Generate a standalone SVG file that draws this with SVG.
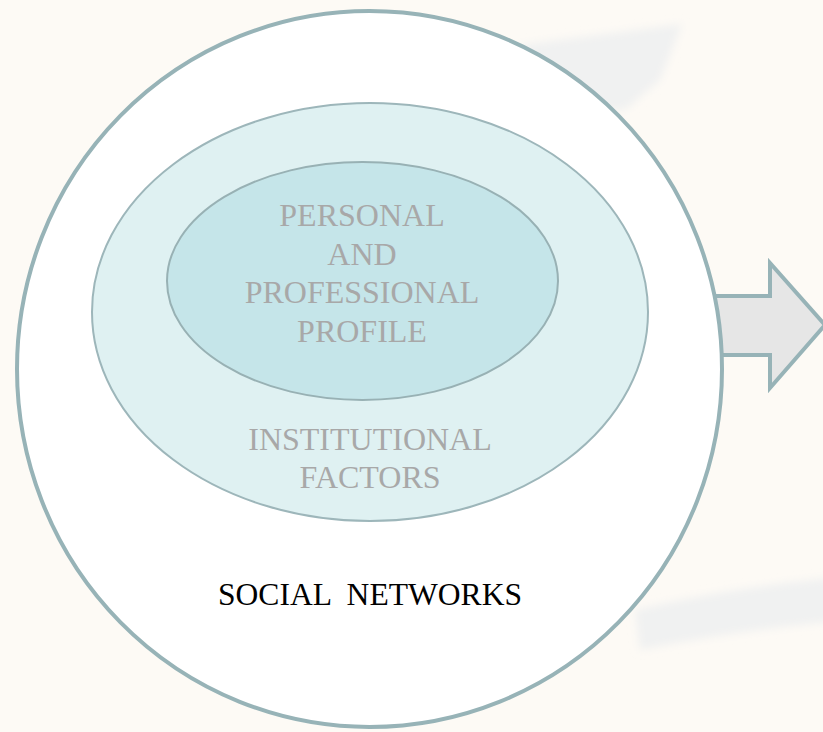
<svg xmlns="http://www.w3.org/2000/svg" width="823" height="732" viewBox="0 0 823 732">
  <defs>
    <style>
      .ring { stroke: #97b3b7; }
      .label { font-family: "Liberation Serif", "Times New Roman", serif; text-anchor: middle; }
      .soft { fill: #a8a8a8; font-size: 32px; }
      .dark { fill: #000000; font-size: 31px; }
    </style>
    <filter id="fade" x="-20%" y="-20%" width="140%" height="140%">
      <feGaussianBlur stdDeviation="4"/>
    </filter>
  </defs>

  <!-- page background with faint backdrop shapes -->
  <rect x="0" y="0" width="823" height="732" fill="#fdfaf5"/>
  <g fill="#f0f1f1" filter="url(#fade)">
    <path d="M520 45 L682 24 L660 80 L625 110 L560 110 Z"/>
    <path d="M635 610 Q730 588 830 578 L830 622 Q740 630 640 650 Z"/>
  </g>

  <!-- outgoing arrow -->
  <g id="connectors">
    <path d="M700 296 L770 296 L770 263 L825 325 L770 388 L770 355 L700 355 Z"
          fill="#e6e6e6" class="ring" stroke-width="4" stroke-linejoin="miter"/>
  </g>

  <!-- outer layer -->
  <g id="social-networks">
    <ellipse cx="369.5" cy="369" rx="352.5" ry="358" fill="#ffffff" class="ring" stroke-width="4"/>
    <text class="label dark" x="370" y="605" textLength="304" lengthAdjust="spacingAndGlyphs" xml:space="preserve">SOCIAL  NETWORKS</text>
  </g>

  <!-- middle layer -->
  <g id="institutional-factors">
    <ellipse cx="370" cy="312" rx="278" ry="209" fill="#dff1f2" stroke="#9db6ba" stroke-width="2"/>
    <text class="label soft" x="370" y="450">INSTITUTIONAL</text>
    <text class="label soft" x="370" y="488">FACTORS</text>
  </g>

  <!-- core -->
  <g id="personal-profile">
    <ellipse cx="362.5" cy="281" rx="195.5" ry="119" fill="#c5e5e9" stroke="#98b1b4" stroke-width="2"/>
    <text class="label soft" x="362" y="226">PERSONAL</text>
    <text class="label soft" x="362" y="265">AND</text>
    <text class="label soft" x="362" y="303">PROFESSIONAL</text>
    <text class="label soft" x="362" y="342">PROFILE</text>
  </g>
</svg>
